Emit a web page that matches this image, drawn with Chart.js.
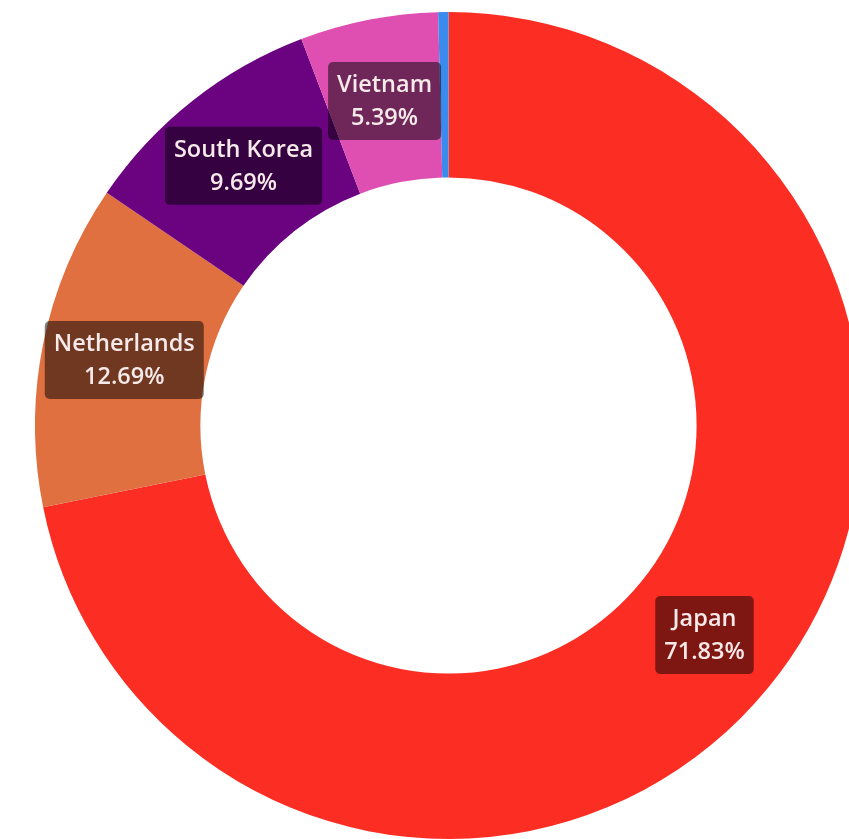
<!DOCTYPE html>
<html>
<head>
<meta charset="utf-8">
<script src="https://cdn.jsdelivr.net/npm/chart.js@4.4.1/dist/chart.umd.min.js"></script>
<style>
  html, body { margin: 0; padding: 0; background: #ffffff; overflow: hidden; width: 849px; height: 839px; }
  #wrap { position: absolute; left: 35px; top: 12px; width: 827px; height: 827px; }
</style>
</head>
<body>
<div id="wrap"><canvas id="c"></canvas></div>
<script>
const categories = ["Japan", "Netherlands", "South Korea", "Vietnam", "Other"];
const shares = [71.83, 12.69, 9.69, 5.39, 0.40];
const sliceColors = ["#fc2d22", "#e07040", "#6b0380", "#df4fb2", "#3b8bee"];

const labelPlugin = {
  id: 'sliceLabels',
  afterDatasetsDraw(chart) {
    const ctx = chart.ctx;
    const meta = chart.getDatasetMeta(0);
    const ds = chart.data.datasets[0];
    ctx.save();
    ctx.font = '600 23.5px "Open Sans", "Noto Sans", sans-serif';
    ctx.textAlign = 'center';
    ctx.textBaseline = 'middle';
    meta.data.forEach((arc, i) => {
      const v = ds.data[i];
      if (v < 1) return;
      const p = arc.tooltipPosition();
      const l1 = chart.data.labels[i];
      const l2 = v.toFixed(2) + '%';
      const w = Math.max(ctx.measureText(l1).width, ctx.measureText(l2).width) + 18;
      const h = 78;
      const x = p.x - w / 2, y = p.y - h / 2;
      ctx.fillStyle = 'rgba(0,0,0,0.5)';
      ctx.beginPath();
      ctx.roundRect(x, y, w, h, 5);
      ctx.fill();
      ctx.fillStyle = '#f6e9e9';
      ctx.fillText(l1, p.x, p.y - 16);
      ctx.fillText(l2, p.x, p.y + 17);
    });
    ctx.restore();
  }
};

new Chart(document.getElementById('c'), {
  type: 'doughnut',
  data: {
    labels: categories,
    datasets: [{
      data: shares,
      backgroundColor: sliceColors,
      borderWidth: 0
    }]
  },
  options: {
    responsive: true,
    maintainAspectRatio: false,
    animation: false,
    cutout: '60%',
    layout: { padding: 0 },
    plugins: {
      legend: { display: false },
      tooltip: { enabled: false }
    }
  },
  plugins: [labelPlugin]
});
</script>
</body>
</html>
